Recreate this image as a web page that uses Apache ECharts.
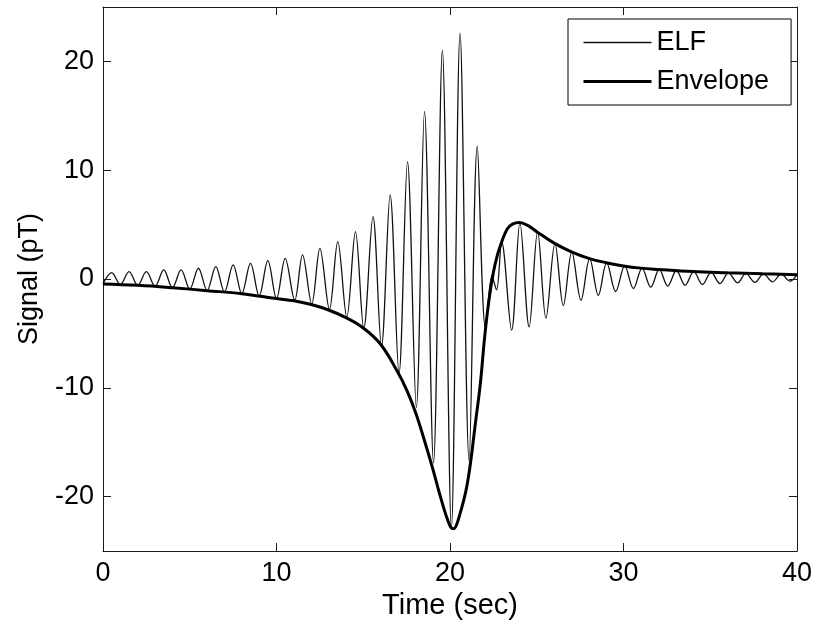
<!DOCTYPE html>
<html>
<head>
<meta charset="utf-8">
<script src="https://cdn.jsdelivr.net/npm/echarts@6/dist/echarts.min.js"></script>
<style>
html,body{margin:0;padding:0;background:#fff;}
#chart{width:820px;height:629px;}
</style>
</head>
<body>
<div id="chart"></div>
<script>
// ELF signal: extrema (time in sec, signal in pT)
const elfT = [0,0.5,1,1.5,2,2.5,3,3.5,4,4.5,5,5.5,6,6.5,7,7.5,8,8.5,9,9.5,10,10.5,11.05,11.5,12.03,12.5,13.05,13.53,14.05,14.55,15.03,15.56,16.05,16.55,17.06,17.55,18.06,18.53,19.05,19.56,20.08,20.58,21.1,21.57,22.05,22.42,22.68,22.98,23.55,24.03,24.56,25.05,25.53,26.05,26.53,27.02,27.55,28.05,28.55,29.03,29.55,30.07,30.57,31.07,31.57,32.06,32.55,33.05,33.55,34.05,34.55,35.05,35.56,36.05,36.58,37.05,37.58,38.07,38.6,39.08,39.6,40];
const elfV = [-0.45,0.58,-0.5,0.67,-0.58,0.67,-0.68,0.83,-0.8,0.83,-0.93,0.99,-1.07,1.13,-1.2,1.29,-1.35,1.44,-1.55,1.68,-1.8,1.9,-1.95,2.21,-2.3,2.82,-2.8,3.43,-3.5,4.35,-4.55,5.73,-6.2,7.73,-8.7,10.79,-11.8,15.4,-16.9,21.0,-22.9,22.6,-16.7,12.2,-4.6,0.3,-1.0,3.4,-4.7,5.15,-4.4,4.35,-3.6,3.28,-2.45,2.5,-1.95,1.9,-1.5,1.5,-1.15,1.2,-0.88,1.0,-0.75,0.88,-0.65,0.78,-0.57,0.68,-0.5,0.62,-0.42,0.57,-0.36,0.52,-0.31,0.48,-0.26,0.45,-0.2,0.4];

// Envelope
const envT = [0,2,4,6,8,10,11,12,13,14,15,16,17,17.5,18,18.5,19,19.5,20,20.2,20.5,21,21.5,21.75,22,22.25,22.5,22.75,23,23.3,23.6,24,24.5,25,26,27,28,29,30,31,32,34,36,38,40];
const envV = [-0.45,-0.58,-0.8,-1.07,-1.35,-1.8,-2.0,-2.35,-2.85,-3.55,-4.5,-6.0,-8.6,-10.2,-12.2,-14.7,-17.4,-20.3,-22.7,-22.95,-22.0,-18.8,-12.8,-9.6,-5.3,-1.9,0.6,2.3,3.5,4.6,5.05,5.2,4.9,4.35,3.3,2.5,1.9,1.5,1.2,1.0,0.88,0.68,0.57,0.48,0.4];

// Axes
const xTicks = [0,10,20,30,40];
const yTicks = [-20,-10,0,10,20];
const xRange = [0,40];
const yRange = [-25,25];
const seriesNames = ['ELF','Envelope'];

const FONT = '"Liberation Sans", Arial, Helvetica, sans-serif';
const elfData = elfT.map((t,i)=>[t, elfV[i]]);
const envData = envT.map((t,i)=>[t, envV[i]]);

function axisBase(pos, isX, show) {
  return {
    type: 'value', position: pos,
    min: isX ? xRange[0] : yRange[0],
    max: isX ? xRange[1] : yRange[1],
    axisLine: {show: true, onZero: false, lineStyle: {color: '#1a1a1a', width: 1}},
    axisTick: {show: true, inside: true, length: 8, customValues: isX ? xTicks : yTicks, lineStyle: {color: '#1a1a1a', width: 1}},
    axisLabel: {show: show, customValues: isX ? xTicks : yTicks, color: '#000', fontSize: 27, fontFamily: FONT, margin: 9},
    splitLine: {show: false}
  };
}

const chart = echarts.init(document.getElementById('chart'), null, {renderer: 'canvas'});
const xMain = Object.assign(axisBase('bottom', true, true), {name: 'Time (sec)', nameLocation: 'middle', nameGap: 40, nameTextStyle: {color: '#000', fontSize: 29, fontFamily: FONT}});
const yMain = Object.assign(axisBase('left', false, true), {name: 'Signal (pT)', nameLocation: 'middle', nameGap: 60, nameTextStyle: {color: '#000', fontSize: 27, fontFamily: FONT}});
chart.setOption({
  animation: false,
  backgroundColor: '#fff',
  grid: {left: 103, right: 23, top: 7, bottom: 78, containLabel: false},
  xAxis: [xMain, axisBase('top', true, false)],
  yAxis: [yMain, axisBase('right', false, false)],
  legend: {
    show: true,
    left: 568, top: 19, orient: 'vertical',
    backgroundColor: '#fff', borderColor: '#000', borderWidth: 1,
    padding: [10, 22, 10, 14], itemGap: 12, itemWidth: 68, itemHeight: 14,
    textStyle: {color: '#000', fontSize: 27, fontFamily: FONT},
    itemStyle: {opacity: 0},
    data: [
      {name: seriesNames[0], lineStyle: {width: 1.3, color: '#111'}, itemStyle: {opacity: 0}},
      {name: seriesNames[1], lineStyle: {width: 3, color: '#000'}, itemStyle: {opacity: 0}}
    ]
  },
  series: [
    {name: seriesNames[0], type: 'line', data: elfData, symbol: 'none', smooth: 0.35, xAxisIndex: 0, yAxisIndex: 0,
     lineStyle: {color: '#111', width: 1.3}, itemStyle: {color: '#111'}, z: 2},
    {name: seriesNames[1], type: 'line', data: envData, symbol: 'none', smooth: 0.4, xAxisIndex: 0, yAxisIndex: 0,
     lineStyle: {color: '#000', width: 3}, itemStyle: {color: '#000'}, z: 3}
  ]
});
</script>
</body>
</html>
